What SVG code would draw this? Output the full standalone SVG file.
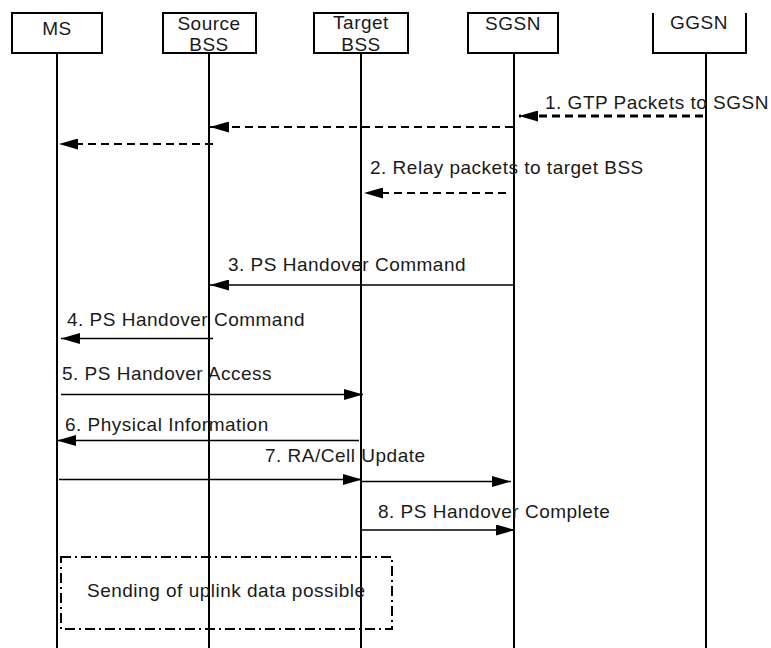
<svg xmlns="http://www.w3.org/2000/svg" width="771" height="648" viewBox="0 0 771 648">
<style>
.box{fill:#fff;stroke:#000;stroke-width:2}
.life{stroke:#000;stroke-width:2}
.t{font-family:"Liberation Sans",Arial,sans-serif;font-size:19px;letter-spacing:0.5px;fill:#1a1a1a}
.bt{font-family:"Liberation Sans",Arial,sans-serif;font-size:19px;letter-spacing:0.5px;fill:#1a1a1a;text-anchor:middle}
.msg{stroke:#000;stroke-width:1.6;fill:none}
.dash{stroke:#000;stroke-width:2;fill:none;stroke-dasharray:8 5}
.dashb{stroke:#000;stroke-width:3;fill:none;stroke-dasharray:8 5}
.dd{fill:none;stroke:#000;stroke-width:2;stroke-dasharray:10 4 2 4}
</style>
<defs>
<marker id="ah" viewBox="0 0 19 11" refX="19" refY="5.5" markerWidth="19" markerHeight="11" markerUnits="userSpaceOnUse" orient="auto">
<path d="M0,0 L19,5.5 L0,11 Z" fill="#000" stroke="none"/>
</marker>
</defs>
<g id="lifelines">
<line class="life" x1="57" y1="53" x2="57" y2="648"/>
<line class="life" x1="209" y1="53" x2="209" y2="648"/>
<line class="life" x1="361" y1="53" x2="361" y2="648"/>
<line class="life" x1="514" y1="53" x2="514" y2="648"/>
<line class="life" x1="706" y1="53" x2="706" y2="648"/>
</g>
<g id="node-ms">
<rect class="box" x="12" y="13" width="90" height="40"/>
<text class="bt" x="57" y="35">MS</text>
</g>
<g id="node-source-bss">
<rect class="box" x="163" y="13" width="93" height="40"/>
<text class="bt" x="209" y="30">Source</text>
<text class="bt" x="209" y="51">BSS</text>
</g>
<g id="node-target-bss">
<rect class="box" x="314" y="13" width="94" height="40"/>
<text class="bt" x="361" y="29">Target</text>
<text class="bt" x="361" y="51">BSS</text>
</g>
<g id="node-sgsn">
<rect class="box" x="468" y="13" width="90" height="40"/>
<text class="bt" x="513" y="30">SGSN</text>
</g>
<g id="node-ggsn">
<rect x="653" y="13" width="93" height="40" fill="#fff" stroke="none"/>
<path d="M653,13 L653,53 L746,53 L746,13" fill="none" stroke="#000" stroke-width="2"/>
<text class="bt" x="699" y="29">GGSN</text>
</g>
<g id="connectors">
<line class="dashb" x1="703" y1="116" x2="519" y2="116" marker-end="url(#ah)"/>
<line class="dash" x1="513" y1="127" x2="210" y2="127" marker-end="url(#ah)"/>
<line class="dash" x1="213" y1="144" x2="59" y2="144" marker-end="url(#ah)"/>
<line class="dash" x1="506" y1="193" x2="364" y2="193" marker-end="url(#ah)"/>
<line class="msg" x1="513" y1="285" x2="210" y2="285" marker-end="url(#ah)"/>
<line class="msg" x1="213" y1="338.5" x2="61" y2="338.5" marker-end="url(#ah)"/>
<line class="msg" x1="61" y1="394.5" x2="363" y2="394.5" marker-end="url(#ah)"/>
<line class="msg" x1="359" y1="440.5" x2="57" y2="440.5" marker-end="url(#ah)"/>
<line class="msg" x1="59" y1="479.5" x2="362" y2="479.5" marker-end="url(#ah)"/>
<line class="msg" x1="362" y1="481.5" x2="511" y2="481.5" marker-end="url(#ah)"/>
<line class="msg" x1="360" y1="530" x2="515" y2="530" marker-end="url(#ah)"/>
</g>
<g id="labels">
<text class="t" x="545" y="109">1. GTP Packets to SGSN</text>
<text class="t" x="370" y="174">2. Relay packets to target BSS</text>
<text class="t" x="228" y="271">3. PS Handover Command</text>
<text class="t" x="67" y="326">4. PS Handover Command</text>
<text class="t" x="62" y="379.5">5. PS Handover Access</text>
<text class="t" x="65" y="431">6. Physical Information</text>
<text class="t" x="265" y="462">7. RA/Cell Update</text>
<text class="t" x="378" y="518">8. PS Handover Complete</text>
</g>
<g id="note">
<rect class="dd" x="61" y="557" width="331" height="72"/>
<text class="t" x="87" y="597">Sending of uplink data possible</text>
</g>
</svg>
